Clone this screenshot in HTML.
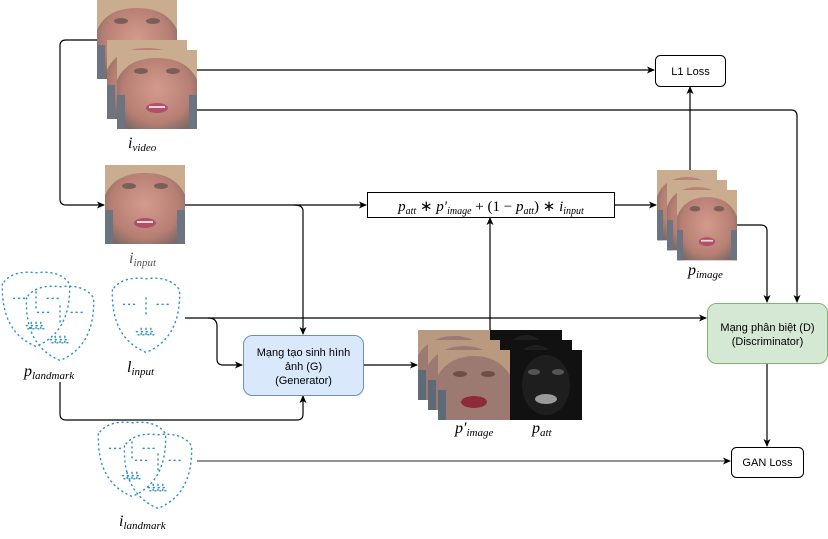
<!DOCTYPE html>
<html><head><meta charset="utf-8"><style>
html,body{margin:0;padding:0;background:#fff}
svg{display:block}
.m{font-family:"Liberation Serif",serif;font-style:italic}
.s{font-family:"Liberation Sans",sans-serif;font-size:11px}
</style></head><body>
<svg width="828" height="539" viewBox="0 0 828 539" xmlns="http://www.w3.org/2000/svg">
<defs>
<marker id="a" markerWidth="8" markerHeight="8" refX="7" refY="4" orient="auto" markerUnits="userSpaceOnUse"><path d="M0,0.5 L8,4 L0,7.5 L2,4z" fill="#000"/></marker>
<radialGradient id="sk" cx="0.5" cy="0.5" r="0.6"><stop offset="0" stop-color="#d49a8e"/><stop offset="0.7" stop-color="#b77f73"/><stop offset="1" stop-color="#7d6a66"/></radialGradient>
<g id="face">
<rect width="80" height="79" fill="url(#sk)"/>
<path d="M0,0 H80 V30 Q70,8 40,8 Q10,8 0,30z" fill="#c9ad8e"/>
<rect x="0" y="45" width="8" height="34" fill="#6b7480"/><rect x="72" y="45" width="8" height="34" fill="#6b7480"/>
<ellipse cx="24" cy="21" rx="7" ry="3" fill="#7a5e58"/><ellipse cx="56" cy="21" rx="7" ry="3" fill="#7a5e58"/>
<ellipse cx="40" cy="58" rx="11" ry="5" fill="#b0506a"/><rect x="32" y="56" width="16" height="2" fill="#e8d8d8"/>
</g>
<g id="fakeface">
<rect width="72" height="70" fill="#9c7a72"/>
<path d="M0,0 H72 V25 Q60,6 36,6 Q12,6 0,25z" fill="#b99a80"/>
<rect x="0" y="40" width="8" height="30" fill="#5d6a78"/>
<ellipse cx="22" cy="24" rx="7" ry="3" fill="#6d4e48"/><ellipse cx="50" cy="24" rx="7" ry="3" fill="#6d4e48"/>
<ellipse cx="36" cy="52" rx="13" ry="6" fill="#8e2a3a"/>
</g>
<g id="att">
<rect width="72" height="70" fill="#111"/>
<ellipse cx="36" cy="35" rx="24" ry="30" fill="#1e1e1e"/>
<ellipse cx="24" cy="22" rx="6" ry="3" fill="#555"/><ellipse cx="48" cy="22" rx="6" ry="3" fill="#555"/>
<ellipse cx="36" cy="49" rx="11" ry="5" fill="#9a9a9a"/>
</g>
<g id="lm" fill="none" stroke="#2a8fd0" stroke-width="1.8" stroke-dasharray="1.2 5" stroke-linecap="round">
<path d="M-42,-30 Q-44,30 0,48 Q44,30 42,-30 Q30,-48 0,-44 Q-30,-48 -42,-30z"/>
<path d="M-28,-12 h14 M14,-12 h14 M0,-20 v24 M-12,22 h24 M-10,26 h20 M-6,18 v12 M0,18 v12 M6,18 v12"/>
</g>
</defs>

<use href="#face" x="97" y="0"/>
<use href="#face" x="107" y="40"/>
<use href="#face" x="117" y="50"/>
<use href="#face" x="105" y="165"/>
<g transform="translate(657,170) scale(0.75,0.89)"><use href="#face"/></g>
<g transform="translate(667,180) scale(0.75,0.89)"><use href="#face"/></g>
<g transform="translate(677,190) scale(0.75,0.89)"><use href="#face"/></g>
<use href="#att" x="490" y="330"/>
<use href="#att" x="500" y="340"/>
<use href="#att" x="510" y="350"/>
<use href="#fakeface" x="418" y="330"/>
<use href="#fakeface" x="428" y="340"/>
<use href="#fakeface" x="438" y="350"/>

<use href="#lm" transform="translate(36,308) scale(0.8)"/>
<use href="#lm" transform="translate(60,322) scale(0.8)"/>
<use href="#lm" transform="translate(146,314) scale(0.8)"/>
<use href="#lm" transform="translate(132,458) scale(0.8)"/>
<use href="#lm" transform="translate(158,470) scale(0.8)"/>

<g fill="none" stroke="#000" stroke-width="1.2">
<path d="M97,40 H66 Q60,40 60,46 V199 Q60,205 66,205 H104" marker-end="url(#a)"/>
<path d="M197,70 H654" marker-end="url(#a)"/>
<path d="M197,110 H791 Q797,110 797,116 V302" marker-end="url(#a)"/>
<path d="M185,205 H366" marker-end="url(#a)"/>
<path d="M294,205 Q303,205 303,211 V334" marker-end="url(#a)"/>
<path d="M615,205 H656" marker-end="url(#a)"/>
<path d="M690,170 V87" marker-end="url(#a)"/>
<path d="M737,225 H761 Q767,225 767,231 V302" marker-end="url(#a)"/>
<path d="M185,318 H706" marker-end="url(#a)"/>
<path d="M208,318 Q217,318 217,326 V359 Q217,365 223,365 H242" marker-end="url(#a)"/>
<path d="M60,382 V414 Q60,420 66,420 H297 Q303,420 303,414 V396" marker-end="url(#a)"/>
<path d="M363,365 H417" marker-end="url(#a)"/>
<path d="M490,330 V218" marker-end="url(#a)"/>
<path d="M767,363 V446" marker-end="url(#a)"/>
<path d="M197,461 H730" marker-end="url(#a)" stroke="#555"/>
</g>

<rect x="655.5" y="55.5" width="70" height="31" rx="5" fill="#fff" stroke="#000"/>
<text x="690.5" y="75" text-anchor="middle" class="s">L1 Loss</text>
<rect x="731.5" y="447.5" width="72" height="30" rx="5" fill="#fff" stroke="#000"/>
<text x="767.5" y="466" text-anchor="middle" class="s">GAN Loss</text>
<rect x="243.5" y="335.5" width="120" height="60" rx="9" fill="#dae8fc" stroke="#6c8ebf"/>
<text x="303.5" y="356" text-anchor="middle" class="s">Mạng tạo sinh hình</text>
<text x="303.5" y="370" text-anchor="middle" class="s">ảnh (G)</text>
<text x="303.5" y="384" text-anchor="middle" class="s">(Generator)</text>
<rect x="707.5" y="303.5" width="120" height="60" rx="9" fill="#d5e8d4" stroke="#82b366"/>
<text x="767.5" y="331" text-anchor="middle" class="s">Mạng phân biệt (D)</text>
<text x="767.5" y="345" text-anchor="middle" class="s">(Discriminator)</text>
<rect x="367.5" y="192.5" width="247" height="25" fill="#fff" stroke="#000"/>
<text x="491" y="211" text-anchor="middle" font-size="15" font-family="Liberation Serif,serif"><tspan font-style="italic">p</tspan><tspan font-size="10" dy="3" font-style="italic">att</tspan><tspan dy="-3"> ∗ </tspan><tspan font-style="italic">p′</tspan><tspan font-size="10" dy="3" font-style="italic">image</tspan><tspan dy="-3"> + (1 − </tspan><tspan font-style="italic">p</tspan><tspan font-size="10" dy="3" font-style="italic">att</tspan><tspan dy="-3">) ∗ </tspan><tspan font-style="italic">i</tspan><tspan font-size="10" dy="3" font-style="italic">input</tspan></text>

<g class="m" font-size="16">
<text x="128" y="148">i<tspan font-size="11" dy="3">video</tspan></text>
<text x="129" y="263" fill="#555">i<tspan font-size="11" dy="3">input</tspan></text>
<text x="24" y="376">p<tspan font-size="11" dy="3">landmark</tspan></text>
<text x="127" y="372">l<tspan font-size="11" dy="3">input</tspan></text>
<text x="119" y="526">i<tspan font-size="11" dy="3">landmark</tspan></text>
<text x="688" y="275">p<tspan font-size="11" dy="3">image</tspan></text>
<text x="455" y="433">p′<tspan font-size="11" dy="3">image</tspan></text>
<text x="532" y="433">p<tspan font-size="11" dy="3">att</tspan></text>
</g>
</svg>
</body></html>
